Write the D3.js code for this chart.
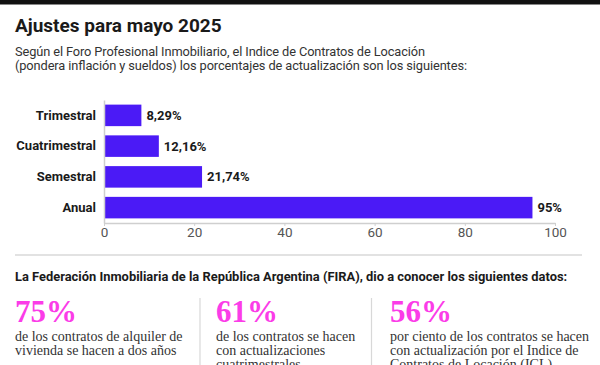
<!DOCTYPE html>
<html>
<head>
<meta charset="utf-8">
<script src="https://cdn.jsdelivr.net/npm/d3@7"></script>
<style>
  html, body { margin: 0; padding: 0; background: #fff; }
  svg { display: block; }
</style>
</head>
<body>
<svg id="chart" width="600" height="365"></svg>
<script>
// ---- data ----
const title = "Ajustes para mayo 2025";
const subtitleLines = [
  "Según el Foro Profesional Inmobiliario, el Indice de Contratos de Locación",
  "(pondera inflación y sueldos) los porcentajes de actualización son los siguientes:"
];
const categories = ["Trimestral", "Cuatrimestral", "Semestral", "Anual"];
const values = [8.29, 12.16, 21.74, 95];
const xTicks = [0, 20, 40, 60, 80, 100];
const sectionHeading = "La Federación Inmobiliaria de la República Argentina (FIRA), dio a conocer los siguientes datos:";
const statValues = ["75%", "61%", "56%"];
const statTexts = [
  ["de los contratos de alquiler de", "vivienda se hacen a dos años"],
  ["de los contratos se hacen", "con actualizaciones", "cuatrimestrales"],
  ["por ciento de los contratos se hacen", "con actualización por el Indice de", "Contratos de Locación (ICL)"]
];

// ---- styles ----
const SANS = "Roboto, 'Liberation Sans', sans-serif";
const SERIF = "'Liberation Serif', 'DejaVu Serif', serif";
const BAR = "#4b1af6";
const PINK = "#fb3ce8";
const INK = "#1a1a1a";

const svg = d3.select("#chart");

// top black band
svg.append("rect").attr("x", 0).attr("y", 0).attr("width", 600).attr("height", 4.5).attr("fill", "#111");

// title + subtitle
svg.append("text").attr("x", 15).attr("y", 31.5)
  .attr("font-family", SANS).attr("font-weight", 700).attr("font-size", 19)
  .attr("fill", INK).text(title);

const subWidths = [410, 452];
svg.append("text").attr("font-family", SANS).attr("font-size", 12.8).attr("fill", "#333")
  .selectAll("tspan").data(subtitleLines).join("tspan")
  .attr("x", 15).attr("y", (d, i) => 56 + i * 14)
  .attr("textLength", (d, i) => subWidths[i]).attr("lengthAdjust", "spacing")
  .text(d => d);

// ---- bar chart ----
const x = d3.scaleLinear().domain([0, 100]).range([104, 555]);
const y = d3.scaleBand().domain(categories).range([100, 223]).paddingInner(0.3).paddingOuter(0.15);

const fmt = v => (Number.isInteger(v) ? String(v) : v.toFixed(2).replace(".", ",")) + "%";

const g = svg.append("g");

g.selectAll("rect.bar").data(values).join("rect")
  .attr("class", "bar")
  .attr("x", x(0))
  .attr("y", (d, i) => y(categories[i]))
  .attr("width", d => x(d) - x(0))
  .attr("height", y.bandwidth())
  .attr("fill", BAR);

g.selectAll("text.val").data(values).join("text")
  .attr("class", "val")
  .attr("x", d => x(d) + 5)
  .attr("y", (d, i) => y(categories[i]) + y.bandwidth() / 2 + 4.5)
  .attr("font-family", SANS).attr("font-weight", 700).attr("font-size", 13)
  .attr("fill", INK)
  .text(d => fmt(d));

// y axis
const yAxis = svg.append("g").attr("transform", `translate(${x(0)},0)`)
  .call(d3.axisLeft(y).tickSize(0).tickPadding(8));
yAxis.select(".domain").attr("stroke", "#cfcfcf").attr("stroke-width", 1.5);
yAxis.selectAll("text").attr("font-family", SANS).attr("font-weight", 700)
  .attr("font-size", 13).attr("fill", INK);

// x axis
const xAxis = svg.append("g").attr("transform", "translate(0,223)")
  .call(d3.axisBottom(x).tickValues(xTicks).tickSize(3).tickPadding(1.5).tickSizeOuter(0));
xAxis.select(".domain").attr("stroke", "#cfcfcf").attr("stroke-width", 1.5);
xAxis.selectAll(".tick line").attr("stroke", "#cfcfcf");
xAxis.selectAll("text").attr("font-family", SANS).attr("font-size", 13.5).attr("fill", "#555");

// ---- separator + FIRA section ----
svg.append("line").attr("x1", 15).attr("x2", 582).attr("y1", 255).attr("y2", 255)
  .attr("stroke", "#e2e2e2").attr("stroke-width", 2);

svg.append("text").attr("x", 15).attr("y", 280.5)
  .attr("font-family", SANS).attr("font-weight", 700).attr("font-size", 12.9)
  .attr("fill", INK).text(sectionHeading);

const colX = [15, 216, 390];
const dividerX = [200, 371.5];

svg.selectAll("line.div").data(dividerX).join("line").attr("class", "div")
  .attr("x1", d => d).attr("x2", d => d).attr("y1", 298).attr("y2", 365)
  .attr("stroke", "#d8d8d8").attr("stroke-width", 1.2);

const cols = svg.selectAll("g.col").data(statValues).join("g").attr("class", "col")
  .attr("transform", (d, i) => `translate(${colX[i]},0)`);

cols.append("text").attr("x", 0).attr("y", 321.5)
  .attr("font-family", SERIF).attr("font-weight", 700).attr("font-size", 31)
  .attr("fill", PINK).text(d => d);

cols.append("text").attr("font-family", SERIF).attr("font-size", 14).attr("fill", "#333")
  .selectAll("tspan").data((d, i) => statTexts[i]).join("tspan")
  .attr("x", 0).attr("y", (d, j) => 340.5 + j * 14)
  .text(d => d);
</script>
</body>
</html>
